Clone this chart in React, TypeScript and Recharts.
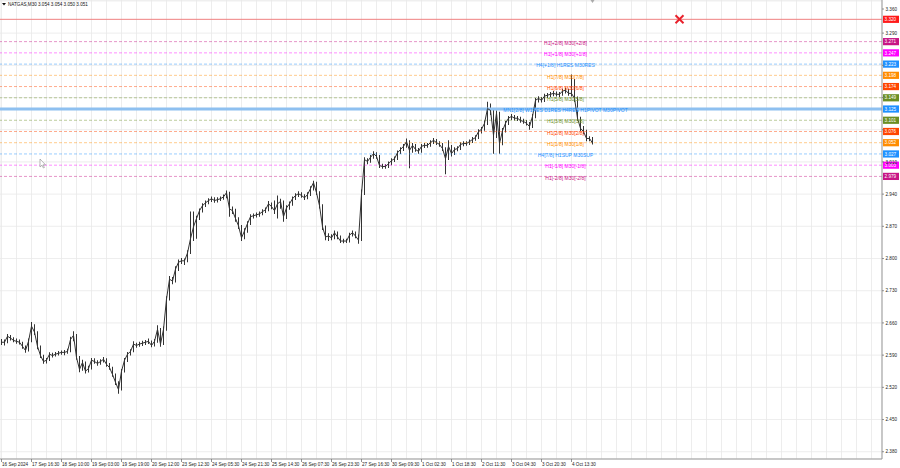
import React from "react";
import {
  ComposedChart,
  Line,
  Bar,
  XAxis,
  YAxis,
  CartesianGrid,
  ReferenceLine,
  ReferenceDot,
} from "recharts";

const FONT = "'Liberation Sans', Arial, sans-serif";

// NATGAS M30 — sampled bars (one sample ≈ 2 hours), closes / highs / lows
const closes = [
  2.618, 2.618, 2.631, 2.627, 2.622, 2.62, 2.618, 2.609, 2.6, 2.62,
  2.653, 2.64, 2.609, 2.589, 2.576, 2.579, 2.592, 2.589, 2.592, 2.594,
  2.596, 2.596, 2.598, 2.624, 2.633, 2.585, 2.559, 2.574, 2.555, 2.561,
  2.579, 2.576, 2.572, 2.576, 2.581, 2.57, 2.563, 2.548, 2.531, 2.515,
  2.555, 2.579, 2.592, 2.598, 2.614, 2.611, 2.614, 2.616, 2.618, 2.62,
  2.611, 2.62, 2.646, 2.614, 2.646, 2.712, 2.755, 2.751, 2.777, 2.792,
  2.795, 2.795, 2.812, 2.843, 2.869, 2.887, 2.904, 2.915, 2.921, 2.926,
  2.93, 2.926, 2.928, 2.93, 2.934, 2.943, 2.908, 2.904, 2.887, 2.871,
  2.845, 2.86, 2.876, 2.891, 2.893, 2.895, 2.897, 2.902, 2.906, 2.919,
  2.913, 2.904, 2.919, 2.924, 2.891, 2.91, 2.919, 2.93, 2.937, 2.941,
  2.937, 2.932, 2.939, 2.952, 2.965, 2.943, 2.915, 2.869, 2.847, 2.849,
  2.845, 2.856, 2.847, 2.838, 2.838, 2.838, 2.851, 2.856, 2.849, 2.84,
  2.941, 3.015, 3.011, 3.02, 3.028, 3.022, 3.002, 3.0, 3.0, 3.006,
  3.013, 3.017, 3.03, 3.037, 3.044, 3.054, 3.035, 3.046, 3.037, 3.033,
  3.044, 3.046, 3.046, 3.052, 3.057, 3.052, 3.048, 3.039, 3.017, 3.044,
  3.028, 3.037, 3.039, 3.048, 3.05, 3.05, 3.054, 3.059, 3.063, 3.076,
  3.081, 3.094, 3.126, 3.122, 3.068, 3.116, 3.05, 3.078, 3.094, 3.105,
  3.109, 3.105, 3.105, 3.1, 3.098, 3.094, 3.087, 3.109, 3.144, 3.148,
  3.144, 3.153, 3.155, 3.157, 3.159, 3.157, 3.157, 3.164, 3.166, 3.159,
  3.159, 3.148, 3.105, 3.083, 3.076, 3.061, 3.061, 3.051,
];

const highs = [
  2.625, 2.624, 2.636, 2.634, 2.629, 2.626, 2.624, 2.619, 2.611, 2.626,
  2.662, 2.657, 2.642, 2.611, 2.591, 2.584, 2.596, 2.595, 2.597, 2.599,
  2.6, 2.601, 2.604, 2.63, 2.642, 2.636, 2.588, 2.58, 2.576, 2.567,
  2.584, 2.583, 2.579, 2.581, 2.586, 2.583, 2.573, 2.565, 2.55, 2.533,
  2.56, 2.584, 2.597, 2.603, 2.62, 2.617, 2.619, 2.621, 2.623, 2.626,
  2.622, 2.625, 2.655, 2.649, 2.652, 2.718, 2.762, 2.76, 2.783, 2.798,
  2.801, 2.8, 2.818, 2.902, 2.902, 2.893, 2.909, 2.92, 2.926, 2.931,
  2.935, 2.933, 2.933, 2.935, 2.939, 2.948, 2.945, 2.913, 2.908, 2.89,
  2.873, 2.866, 2.881, 2.896, 2.898, 2.9, 2.902, 2.907, 2.911, 2.925,
  2.922, 2.926, 2.937, 2.93, 2.926, 2.916, 2.924, 2.935, 2.942, 2.946,
  2.944, 2.94, 2.944, 2.957, 2.969, 2.967, 2.946, 2.918, 2.872, 2.855,
  2.853, 2.861, 2.859, 2.85, 2.843, 2.843, 2.856, 2.861, 2.859, 2.852,
  2.95, 3.02, 3.018, 3.025, 3.033, 3.031, 3.025, 3.006, 3.005, 3.011,
  3.018, 3.022, 3.035, 3.042, 3.049, 3.061, 3.057, 3.051, 3.049, 3.04,
  3.049, 3.051, 3.051, 3.057, 3.062, 3.06, 3.055, 3.051, 3.042, 3.057,
  3.047, 3.042, 3.044, 3.053, 3.055, 3.055, 3.059, 3.064, 3.068, 3.081,
  3.086, 3.1, 3.141, 3.137, 3.125, 3.122, 3.119, 3.084, 3.099, 3.11,
  3.114, 3.112, 3.11, 3.108, 3.104, 3.101, 3.097, 3.114, 3.149, 3.153,
  3.151, 3.158, 3.16, 3.162, 3.164, 3.163, 3.162, 3.169, 3.171, 3.169,
  3.2, 3.19, 3.152, 3.108, 3.088, 3.08, 3.066, 3.064,
];

const lows = [
  2.612, 2.611, 2.616, 2.622, 2.618, 2.615, 2.613, 2.604, 2.595, 2.598,
  2.618, 2.634, 2.603, 2.584, 2.571, 2.572, 2.577, 2.585, 2.587, 2.589,
  2.591, 2.59, 2.593, 2.596, 2.62, 2.58, 2.553, 2.556, 2.55, 2.552,
  2.559, 2.571, 2.567, 2.569, 2.574, 2.565, 2.558, 2.543, 2.525, 2.506,
  2.513, 2.552, 2.575, 2.589, 2.596, 2.606, 2.608, 2.61, 2.612, 2.614,
  2.607, 2.609, 2.617, 2.608, 2.612, 2.643, 2.709, 2.744, 2.748, 2.773,
  2.788, 2.786, 2.792, 2.81, 2.838, 2.843, 2.884, 2.9, 2.912, 2.918,
  2.923, 2.921, 2.922, 2.925, 2.928, 2.931, 2.891, 2.897, 2.88, 2.864,
  2.838, 2.842, 2.856, 2.873, 2.887, 2.889, 2.891, 2.894, 2.899, 2.903,
  2.907, 2.897, 2.887, 2.908, 2.88, 2.886, 2.906, 2.915, 2.927, 2.934,
  2.932, 2.927, 2.929, 2.936, 2.948, 2.938, 2.909, 2.862, 2.84, 2.838,
  2.84, 2.842, 2.842, 2.834, 2.833, 2.834, 2.835, 2.848, 2.844, 2.832,
  2.838, 2.938, 3.005, 3.008, 3.017, 3.017, 2.997, 2.995, 2.995, 2.997,
  3.003, 3.01, 3.014, 3.027, 3.034, 3.041, 2.996, 3.03, 3.032, 3.028,
  3.03, 3.04, 3.041, 3.043, 3.049, 3.047, 3.043, 3.034, 2.983, 3.014,
  3.022, 3.025, 3.033, 3.036, 3.044, 3.045, 3.047, 3.051, 3.056, 3.06,
  3.072, 3.078, 3.09, 3.112, 3.028, 3.062, 3.028, 3.046, 3.074, 3.09,
  3.101, 3.1, 3.099, 3.095, 3.093, 3.089, 3.08, 3.084, 3.105, 3.139,
  3.139, 3.14, 3.149, 3.151, 3.153, 3.152, 3.151, 3.154, 3.159, 3.154,
  3.152, 3.14, 3.099, 3.077, 3.07, 3.055, 3.055, 3.048,
];

const xLabels = [
  "16 Sep 2024", "17 Sep 16:30", "18 Sep 10:00", "19 Sep 03:00", "19 Sep 19:00",
  "20 Sep 12:00", "23 Sep 12:30", "24 Sep 05:30", "24 Sep 21:30", "25 Sep 14:30",
  "26 Sep 07:30", "26 Sep 23:30", "27 Sep 16:30", "30 Sep 09:30", "1 Oct 02:30",
  "1 Oct 18:30", "2 Oct 11:30", "3 Oct 04:30", "3 Oct 20:30", "4 Oct 13:30",
];

const yTicks = [
  2.38, 2.415, 2.45, 2.485, 2.52, 2.555, 2.59, 2.625, 2.66, 2.695, 2.73, 2.765,
  2.8, 2.835, 2.87, 2.905, 2.94, 2.975, 3.01, 3.045, 3.08, 3.115, 3.15, 3.185,
  3.22, 3.255, 3.29, 3.325, 3.36,
];

const levelValues = [
  3.271484375, 3.2470703125, 3.22265625, 3.1982421875, 3.173828125, 3.1494140625,
  3.125, 3.1005859375, 3.076171875, 3.0517578125, 3.02734375, 3.0029296875, 2.978515625,
];
const levelLabels = [
  "H1[+2/8] M30[+2/8]",
  "H1[+1/8] M30[+1/8]",
  "H4[+1/8] H1RES M30RES",
  "H1[7/8] M30[7/8]",
  "H1[6/8] M30[6/8]",
  "H1[5/8] M30[5/8]",
  "MN1[2/8] W1RES D1RES H4RES H1PIVOT M30PIVOT",
  "H1[3/8] M30[3/8]",
  "H1[2/8] M30[2/8]",
  "H1[1/8] M30[1/8]",
  "H4[7/8] H1SUP M30SUP",
  "H1[-1/8] M30[-1/8]",
  "H1[-2/8] M30[-2/8]",
];
const levelColors = [
  "#c71585", "#ff00ff", "#1e90ff", "#ff8c00", "#ff4500", "#6b8e23", "#1e90ff",
  "#6b8e23", "#ff4500", "#ff8c00", "#1e90ff", "#ff00ff", "#c71585",
];
const PIVOT_INDEX = 6;

const stopLevel = 3.32;
const title = "NATGAS,M30  3.054 3.054 3.050 3.051";

const TOTAL_SLOTS = 294;
const LABEL_SLOT = 188;
const MARK_SLOT = 226;
const Y_DOMAIN: [number, number] = [2.3642, 3.362];

const data = Array.from({ length: TOTAL_SLOTS }, (_, i) => ({
  slot: i,
  close: i < closes.length ? closes[i] : null,
  range: i < closes.length ? [lows[i], highs[i]] : null,
}));

const gridSlots = Array.from({ length: Math.ceil(TOTAL_SLOTS / 5) }, (_, k) => k * 5);

// a tick label sitting under a coloured price box is hidden by that box
const isCovered = (v: number) => levelValues.some((lv) => Math.abs(lv - v) < 0.004);

const XTick = (props: any) => {
  const { x, y, payload } = props;
  const slot = payload.value as number;
  if (slot % 10 !== 0 || !xLabels[slot / 10]) return <g />;
  return (
    <g>
      <line x1={x} y1={y} x2={x} y2={y + 3} stroke="#777" strokeWidth={0.8} />
      <text x={x + 0.5} y={y + 6.8} fontSize={4.6} fill="#222" fontFamily={FONT}>
        {xLabels[slot / 10]}
      </text>
    </g>
  );
};

const YTick = (props: any) => {
  const { x, y, payload } = props;
  const v = payload.value as number;
  return (
    <g>
      <line x1={x} y1={y} x2={x + 2} y2={y} stroke="#777" strokeWidth={0.8} />
      {!isCovered(v) && (
        <text x={x + 3.5} y={y + 1.6} fontSize={4.6} fill="#222" fontFamily={FONT}>
          {v.toFixed(3)}
        </text>
      )}
    </g>
  );
};

const priceBox = (color: string, value: number) => (props: any) => {
  const vb = props.viewBox || {};
  const x = (vb.x ?? 0) + (vb.width ?? 0);
  const y = vb.y ?? 0;
  return (
    <g>
      <rect x={x + 1} y={y - 3.6} width={16} height={7.2} fill={color} />
      <text x={x + 2.6} y={y + 1.7} fontSize={4.6} fill="#fff" fontFamily={FONT}>
        {value.toFixed(3)}
      </text>
    </g>
  );
};

export default function App() {
  return (
    <div style={{ position: "relative", width: 900, height: 468, background: "#fff" }}>
      <style>{`body{margin:0;background:#fff}`}</style>
      <ComposedChart
        width={900}
        height={468}
        data={data}
        margin={{ top: 0, right: 0, bottom: 0, left: 0 }}
        barCategoryGap={0}
      >
        <CartesianGrid stroke="#e9e9e9" strokeWidth={0.8} />
        <XAxis
          dataKey="slot"
          type="category"
          ticks={gridSlots}
          interval={0}
          height={9}
          tickSize={0}
          tickMargin={0}
          tick={<XTick />}
          axisLine={{ stroke: "#999" }}
          tickLine={false}
        />
        <YAxis
          orientation="right"
          type="number"
          domain={Y_DOMAIN}
          allowDataOverflow
          ticks={yTicks}
          width={18}
          tickSize={0}
          tickMargin={0}
          tick={<YTick />}
          axisLine={{ stroke: "#999" }}
          tickLine={false}
        />
        <ReferenceLine
          y={stopLevel}
          stroke="#f08080"
          strokeWidth={1}
          label={priceBox("#ff1a1a", stopLevel)}
        />
        {levelValues.map((v, i) => (
          <ReferenceLine
            key={"lv" + i}
            y={v}
            stroke={i === PIVOT_INDEX ? "#8ec0f0" : levelColors[i]}
            strokeOpacity={i === PIVOT_INDEX ? 1 : 0.45}
            strokeWidth={i === PIVOT_INDEX ? 3 : 1}
            strokeDasharray={i === PIVOT_INDEX ? undefined : "3 2"}
            label={priceBox(levelColors[i], v)}
          />
        ))}
        {levelValues.map((v, i) => (
          <ReferenceDot
            key={"lt" + i}
            x={LABEL_SLOT}
            y={v}
            r={0}
            shape={(p: any) => (
              <text
                x={p.cx}
                y={p.cy + 3.2}
                textAnchor="middle"
                fontSize={5}
                fill={levelColors[i]}
                fontFamily={FONT}
              >
                {levelLabels[i]}
              </text>
            )}
          />
        ))}
        <Bar dataKey="range" fill="#333" barSize={1} isAnimationActive={false} />
        <Line
          dataKey="close"
          stroke="#333"
          strokeWidth={1}
          dot={false}
          activeDot={false}
          isAnimationActive={false}
          connectNulls={false}
        />
        <ReferenceDot
          x={MARK_SLOT}
          y={stopLevel}
          r={0}
          shape={(p: any) => (
            <g stroke="#e8202a" strokeWidth={2}>
              <line x1={p.cx - 4} y1={p.cy - 4} x2={p.cx + 4} y2={p.cy + 4} />
              <line x1={p.cx - 4} y1={p.cy + 4} x2={p.cx + 4} y2={p.cy - 4} />
            </g>
          )}
        />
        <ReferenceDot
          x={closes.length - 1}
          y={Y_DOMAIN[1]}
          r={0}
          shape={(p: any) => (
            <path d={`M${p.cx - 2} ${p.cy} L${p.cx + 2} ${p.cy} L${p.cx} ${p.cy + 3} Z`} fill="#aaa" />
          )}
        />
      </ComposedChart>
      <svg
        width={900}
        height={468}
        style={{ position: "absolute", left: 0, top: 0, pointerEvents: "none" }}
      >
        <path d="M2 3 L6 3 L4 5.5 Z" fill="#111" />
        <text x={8} y={6} fontSize={4.6} fill="#111" fontFamily={FONT}>
          {title}
        </text>
        <path
          d="M40 159 L40 167 L42 165.2 L43.4 168 L44.4 167.5 L43 164.8 L45.5 164.8 Z"
          fill="#fff"
          stroke="#888"
          strokeWidth={0.6}
        />
      </svg>
    </div>
  );
}
